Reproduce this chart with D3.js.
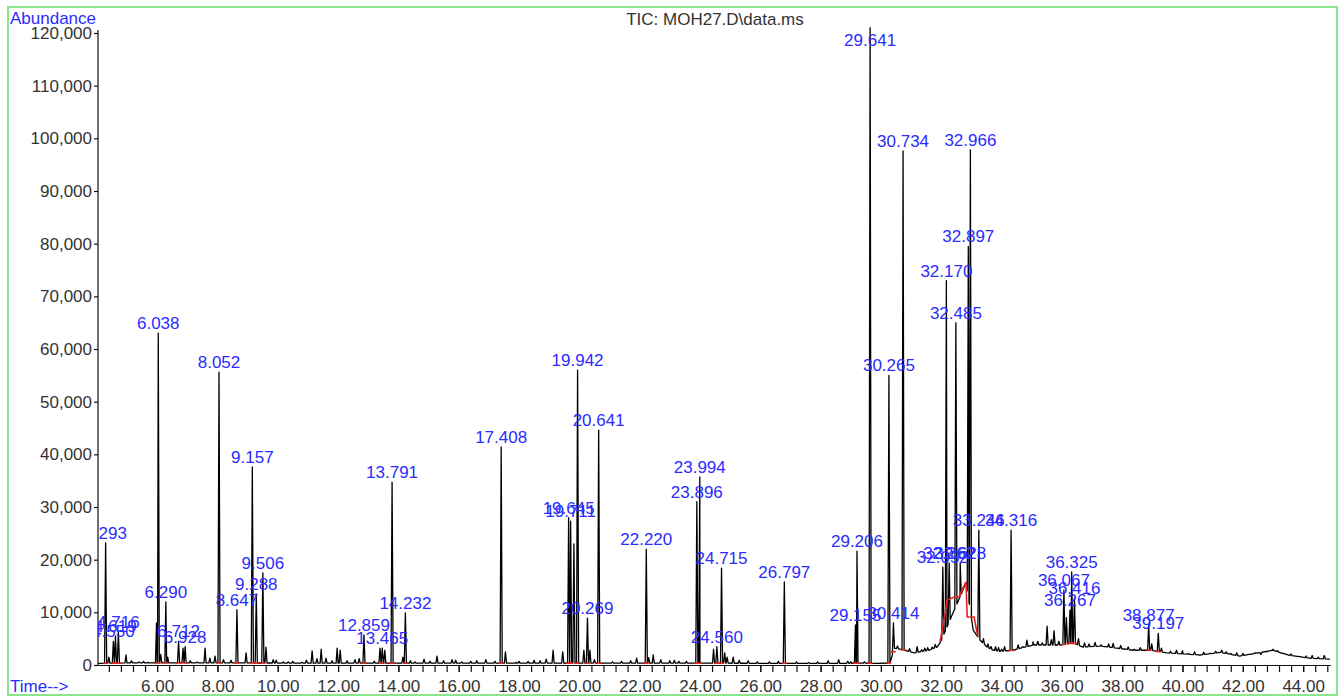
<!DOCTYPE html>
<html>
<head>
<meta charset="utf-8">
<script src="https://cdn.jsdelivr.net/npm/d3@7"></script>
<style>
  body { margin: 0; background: #fff; }
  svg { display: block; font-family: "Liberation Sans", Arial, sans-serif; }
</style>
</head>
<body>
<svg id="chart" width="1340" height="698"></svg>
<script>
// Picos etiquetados (tiempo en min, abundancia)
const peakTimes = [4.293, 4.550, 4.619, 4.716, 6.038, 6.290, 6.712, 6.928, 8.052, 8.647,
  9.157, 9.288, 9.506, 12.859, 13.465, 13.791, 14.232, 17.408, 19.645, 19.711,
  19.942, 20.269, 20.641, 22.220, 23.896, 23.994, 24.560, 24.715, 26.797, 29.155,
  29.206, 29.641, 30.265, 30.414, 30.734, 32.052, 32.170, 32.262, 32.485, 32.628,
  32.897, 32.966, 33.246, 34.316, 36.067, 36.267, 36.325, 36.416, 38.877, 39.197];
const peakHeights = [23200, 4500, 5500, 6200, 63000, 12000, 4500, 3500, 55600, 10500,
  37600, 13500, 17500, 5700, 3200, 34700, 9900, 41400, 28000, 27300,
  56000, 8900, 44600, 22000, 31000, 35700, 3500, 18400, 15800, 7600,
  21600, 121000, 55000, 8000, 97600, 18600, 73000, 19400, 65000, 19400,
  79500, 97800, 25600, 25600, 14200, 10400, 17700, 12700, 7600, 6000];
const peakLabels = ["4.293", "4.550", "4.619", "4.716", "6.038", "6.290", "6.712", "6.928", "8.052", "8.647",
  "9.157", "9.288", "9.506", "12.859", "13.465", "13.791", "14.232", "17.408", "19.645", "19.711",
  "19.942", "20.269", "20.641", "22.220", "23.896", "23.994", "24.560", "24.715", "26.797", "29.155",
  "29.206", "29.641", "30.265", "30.414", "30.734", "32.052", "32.170", "32.262", "32.485", "32.628",
  "32.897", "32.966", "33.246", "34.316", "36.067", "36.267", "36.325", "36.416", "38.877", "39.197"];

// Picos menores sin etiqueta
const minorTimes = [4.40, 4.97, 5.15, 5.40, 5.55, 5.70, 5.98, 6.12, 6.35, 6.86,
  7.10, 7.33, 7.59, 7.75, 7.92, 8.20, 8.45, 8.95, 9.61, 9.85,
  9.95, 10.18, 10.35, 10.50, 10.80, 10.95, 11.14, 11.30, 11.44, 11.60,
  11.80, 11.97, 12.07, 12.30, 12.56, 12.70, 13.20, 13.39, 13.55, 14.15,
  14.40, 14.55, 14.85, 15.05, 15.28, 15.50, 15.78, 15.90, 16.10, 16.40,
  16.60, 16.90, 17.20, 17.55, 17.90, 18.00, 18.30, 18.50, 18.70, 18.90,
  19.13, 19.45, 19.82, 20.15, 20.35, 20.50, 21.10, 21.40, 21.70, 21.90,
  22.30, 22.45, 22.70, 23.00, 23.15, 23.30, 23.55, 24.45, 24.82, 24.90,
  25.10, 25.30, 25.60, 25.90, 26.30, 26.60, 27.20, 27.60, 27.90, 28.25,
  28.60, 28.90, 29.00, 29.45, 30.55, 30.95, 31.20, 31.35, 31.45, 31.55,
  31.70, 31.80, 33.40, 33.55, 33.65, 33.80, 33.90, 34.00, 34.10, 34.55,
  34.70, 34.84, 35.04, 35.20, 35.35, 35.51, 35.65, 35.74, 35.90, 36.15,
  36.55, 36.75, 36.90, 37.10, 37.30, 37.55, 37.70, 37.95, 38.20, 38.40,
  38.60, 38.98, 39.30, 39.60, 39.80, 40.00, 40.20, 40.40, 40.70, 40.90,
  41.10, 41.30, 41.45, 41.60, 41.80, 42.00, 42.20, 42.40, 42.60, 42.80,
  43.00, 43.15, 43.30, 43.60, 43.90, 44.10, 44.30, 44.50, 44.70];
const minorHeights = [1500, 1900, 800, 600, 700, 500, 8000, 2000, 1500, 3200,
  800, 600, 3200, 1300, 1700, 1000, 900, 2300, 3400, 1000,
  900, 600, 600, 700, 500, 900, 2700, 1200, 3000, 1300,
  800, 3200, 2800, 800, 1000, 1200, 700, 3200, 2800, 1500,
  800, 600, 1100, 700, 1700, 800, 1000, 900, 600, 700,
  800, 1000, 700, 2500, 500, 700, 700, 900, 800, 1100,
  2800, 2500, 23000, 2800, 2800, 1000, 600, 700, 800, 1300,
  1400, 1900, 1000, 800, 900, 700, 700, 3000, 2300, 1500,
  1500, 900, 800, 600, 600, 700, 600, 500, 600, 800,
  1000, 700, 600, 600, 3600, 3100, 3500, 2900, 3200, 3300,
  3400, 3900, 5000, 4000, 3500, 3500, 3300, 3000, 3500, 3800,
  3500, 4700, 4400, 4500, 4200, 7400, 4800, 6500, 4500, 9000,
  5000, 4200, 4000, 4300, 3800, 4000, 4100, 3700, 3400, 3000,
  3300, 4000, 3200, 2600, 2800, 2700, 2200, 2500, 2400, 2200,
  2600, 2800, 2500, 2200, 2300, 2200, 2000, 2300, 2000, 2500,
  3000, 2700, 2200, 2100, 1600, 1700, 1800, 1500, 1800];

// Linea base del TIC
const baseTimes = [4.04, 5.0, 8.0, 12.0, 16.0, 20.0, 24.0, 28.0, 29.5, 29.9,
  30.3, 30.45, 30.8, 31.1, 31.6, 31.86, 31.96, 32.19, 32.39, 32.62,
  32.82, 32.92, 33.06, 33.29, 33.52, 33.72, 33.95, 34.38, 35.04, 35.94,
  36.37, 36.7, 37.27, 37.83, 38.36, 38.93, 39.49, 40.02, 40.58, 41.25,
  41.9, 43.0, 43.5, 44.2, 44.89];
const baseLevels = [300, 400, 400, 350, 350, 350, 350, 300, 350, 300,
  400, 3200, 2800, 2300, 2800, 3400, 4200, 7200, 9900, 12900,
  15600, 12000, 6600, 4700, 3400, 2800, 2600, 2800, 3800, 3800,
  4200, 3400, 3600, 3200, 2800, 2800, 2300, 2100, 1900, 2400,
  1700, 2800, 1900, 1300, 1100];

// Linea roja de integracion en la joroba
const humpTimes = [31.96, 32.13, 32.19, 32.43, 32.59, 32.66, 32.82, 32.86, 33.09, 33.19, 33.22];
const humpLevels = [4400, 9900, 12300, 12900, 12900, 13900, 15800, 9100, 9100, 6000, 5300];

const xMajorTicks = [6, 8, 10, 12, 14, 16, 18, 20, 22, 24, 26, 28, 30, 32, 34, 36, 38, 40, 42, 44];
const yTicks = [0, 10000, 20000, 30000, 40000, 50000, 60000, 70000, 80000, 90000, 100000, 110000, 120000];

const svg = d3.select("#chart");

const plotLeft = 98, plotRight = 1330, plotTop = 33, plotBottom = 665;
const x = d3.scaleLinear().domain([4.04, 44.89]).range([plotLeft, plotRight]);
const y = d3.scaleLinear().domain([0, 120000]).range([plotBottom, plotTop]);

const blue = "#2b2bff";
const grey = "#333";

// marco verde
svg.append("rect")
  .attr("x", 8).attr("y", 7)
  .attr("width", 1329).attr("height", 688)
  .attr("fill", "none")
  .attr("stroke", "#8be68b")
  .attr("stroke-width", 2);

svg.append("text")
  .attr("x", 715).attr("y", 25)
  .attr("text-anchor", "middle")
  .attr("font-size", "17px")
  .attr("fill", grey)
  .text("TIC: MOH27.D\\data.ms");

svg.append("text")
  .attr("x", 10).attr("y", 24)
  .attr("font-size", "17px")
  .attr("fill", blue)
  .text("Abundance");

svg.append("text")
  .attr("x", 10).attr("y", 692)
  .attr("font-size", "17px")
  .attr("fill", blue)
  .text("Time-->");

// ejes
const yAxis = svg.append("g")
  .attr("transform", `translate(${plotLeft},0)`)
  .call(d3.axisLeft(y).tickValues(yTicks).tickSize(4).tickSizeOuter(0).tickPadding(2).tickFormat(d3.format(",")));
yAxis.select(".domain").attr("d", `M0,${plotBottom}V30`);

const minorTicks = d3.range(4.4, 44.85, 0.4);
svg.append("g")
  .attr("transform", `translate(0,${plotBottom})`)
  .call(d3.axisBottom(x).tickValues(minorTicks).tickSize(7).tickSizeOuter(0).tickFormat(""));

svg.append("g")
  .attr("transform", `translate(0,${plotBottom})`)
  .call(d3.axisBottom(x).tickValues(xMajorTicks).tickSize(7).tickSizeOuter(0).tickPadding(8).tickFormat(d3.format(".2f")));

svg.selectAll(".tick text")
  .attr("font-size", "17px")
  .attr("font-family", "\"Liberation Sans\", Arial, sans-serif")
  .attr("fill", grey);
svg.selectAll(".tick line, .domain").attr("stroke", "#111").attr("stroke-width", 1.2);

// traza del cromatograma
const baseAt = d3.scaleLinear().domain(baseTimes).range(baseLevels).clamp(true);
const halfW = 0.035;
const peaks = peakTimes.map((t, i) => ({ t, h: peakHeights[i] }))
  .concat(minorTimes.map((t, i) => ({ t, h: minorHeights[i] })));

let pts = baseTimes.map((t, i) => [t, baseLevels[i]]);
peaks.forEach((p) => {
  pts.push([p.t - halfW, baseAt(p.t - halfW)], [p.t, p.h], [p.t + halfW, baseAt(p.t + halfW)]);
});
pts.sort((a, b) => a[0] - b[0]);

const line = d3.line().x((d) => x(d[0])).y((d) => y(d[1]));

svg.append("path")
  .datum(pts)
  .attr("d", line)
  .attr("fill", "none")
  .attr("stroke", "#000")
  .attr("stroke-width", 1.3)
  .attr("stroke-linejoin", "round");

// lineas rojas de integracion
const red = "#e8231f";
svg.selectAll("line.integ")
  .data(peakTimes.filter((t) => t < 31.9 || t > 33.3))
  .enter()
  .append("line")
  .attr("class", "integ")
  .attr("x1", (d) => x(d - 0.08))
  .attr("x2", (d) => x(d + 0.08))
  .attr("y1", (d) => y(baseAt(d)))
  .attr("y2", (d) => y(baseAt(d)))
  .attr("stroke", red)
  .attr("stroke-width", 1.6);

svg.append("path")
  .datum(humpTimes.map((t, i) => [t, humpLevels[i]]))
  .attr("d", line)
  .attr("fill", "none")
  .attr("stroke", red)
  .attr("stroke-width", 1.6);

// etiquetas de picos
svg.append("clipPath")
  .attr("id", "plotClip")
  .append("rect")
  .attr("x", plotLeft).attr("y", 0)
  .attr("width", plotRight - plotLeft + 20).attr("height", 698);

svg.append("g")
  .attr("clip-path", "url(#plotClip)")
  .selectAll("text.peak")
  .data(peakTimes)
  .enter()
  .append("text")
  .attr("class", "peak")
  .attr("x", (d) => x(d))
  .attr("y", (d, i) => Math.max(y(peakHeights[i]) - 4, 46))
  .attr("text-anchor", "middle")
  .attr("font-size", "17px")
  .attr("fill", blue)
  .text((d, i) => peakLabels[i]);
</script>
</body>
</html>
